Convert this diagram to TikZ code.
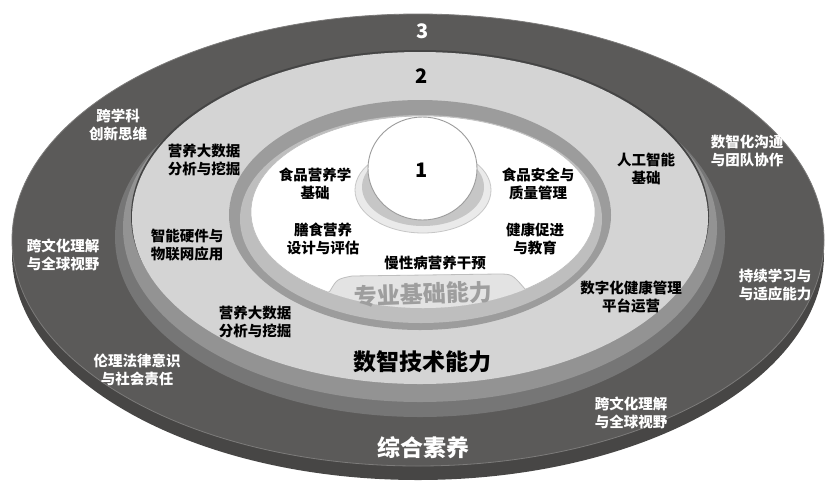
\documentclass[tikz,border=0pt]{standalone}
\usepackage{fontspec}
\setmainfont{Noto Sans CJK SC}
\definecolor{ringthree}{HTML}{5B5A59}
\definecolor{ringthreeside}{HTML}{474645}
\definecolor{ringthreeedge}{HTML}{7C7B7A}
\definecolor{bevelout}{HTML}{767676}
\definecolor{bevelin}{HTML}{939393}
\definecolor{rimshadow}{HTML}{454545}
\definecolor{ringtwo}{HTML}{D4D4D4}
\definecolor{coreband}{HTML}{9C9C9C}
\definecolor{corebandlight}{HTML}{BEBEBE}
\definecolor{tabgray}{HTML}{E3E3E3}
\definecolor{basegray}{HTML}{C6C6C6}
\definecolor{baserim}{HTML}{EAEAEA}
\definecolor{softtext}{HTML}{9E9E9E}
\begin{document}
\begin{tikzpicture}[x=1pt,y=-1pt,
  lbl/.style={font=\fontsize{14.5}{17.5}\selectfont\bfseries, align=center, inner sep=0pt, text=black},
  wlbl/.style={lbl, text=white},
  biglbl/.style={font=\fontsize{23}{26}\selectfont\bfseries, inner sep=0pt},
  numlbl/.style={font=\fontsize{20}{22}\selectfont\bfseries, inner sep=0pt}]
\path[use as bounding box] (0,0) rectangle (826,491);

% outer disc: side, then top face
\fill[ringthreeside] (418,254) ellipse [x radius=406pt, y radius=226pt];
\filldraw[fill=ringthree, draw=ringthreeedge, line width=0.8pt] (418,240) ellipse [x radius=406pt, y radius=226pt];

% middle disc with bevelled edge
\fill[bevelout] (420,237) ellipse [x radius=305pt, y radius=180pt];
\fill[bevelin] (420,228) ellipse [x radius=297pt, y radius=174pt];
\fill[rimshadow] (420,216) ellipse [x radius=289pt, y radius=166pt];
\fill[ringtwo] (420,218) ellipse [x radius=288pt, y radius=166pt];

% inner plate
\fill[coreband] (420,215) ellipse [x radius=191pt, y radius=115pt];
\fill[corebandlight] (421,219) ellipse [x radius=181pt, y radius=104pt];
\filldraw[fill=white, draw=corebandlight, line width=0.6pt] (423,212) ellipse [x radius=172pt, y radius=96pt];
\begin{scope}
  \clip (423,212) ellipse [x radius=172pt, y radius=96pt];
  \filldraw[fill=tabgray, draw=corebandlight, line width=0.8pt]
    (318,330) -- (318,300) -- (330,291) .. controls (337,279) .. (352,276)
    -- (498,274) .. controls (512,274) .. (525,289) -- (540,300) -- (540,330) -- cycle;
\end{scope}

% central pedestal and globe
\filldraw[fill=baserim, draw=basegray, line width=0.8pt] (423,190) ellipse [x radius=68pt, y radius=43pt];
\fill[basegray] (423,187) ellipse [x radius=61pt, y radius=39pt];
\filldraw[fill=white, draw=coreband, line width=0.9pt] (422.5,168.5) ellipse [x radius=54.5pt, y radius=51.5pt];

% level numbers
\node[numlbl] (n1) at (422,170) {1};
\node[numlbl] (n2) at (422,76) {2};
\node[numlbl, text=white] (n3) at (423,31) {3};

% core professional abilities
\node[lbl] (c1) at (315,184) {食品营养学\\基础};
\node[lbl] (c2) at (323,239) {膳食营养\\设计与评估};
\node[lbl] (c3) at (435,263) {慢性病营养干预};
\node[lbl] (c4) at (538,184) {食品安全与\\质量管理};
\node[lbl] (c5) at (535,239) {健康促进\\与教育};
\node[biglbl, text=softtext, rotate=2] (core) at (423,294) {专业基础能力};

% digital-intelligence abilities
\node[lbl] (d1) at (204,160) {营养大数据\\分析与挖掘};
\node[lbl] (d2) at (187,245) {智能硬件与\\物联网应用};
\node[lbl] (d3) at (255,322) {营养大数据\\分析与挖掘};
\node[lbl] (d4) at (646,169) {人工智能\\基础};
\node[lbl] (d5) at (631,297) {数字化健康管理\\平台运营};
\node[biglbl] (digi) at (422,362) {数智技术能力};

% general qualities
\node[wlbl] (g1) at (118,125) {跨学科\\创新思维};
\node[wlbl] (g2) at (63,255) {跨文化理解\\与全球视野};
\node[wlbl] (g3) at (137,370) {伦理法律意识\\与社会责任};
\node[wlbl] (g4) at (631,413) {跨文化理解\\与全球视野};
\node[wlbl] (g5) at (775,285) {持续学习与\\与适应能力};
\node[wlbl] (g6) at (747,151) {数智化沟通\\与团队协作};
\node[biglbl, text=white] (gen) at (423,448) {综合素养};
\end{tikzpicture}
\end{document}
